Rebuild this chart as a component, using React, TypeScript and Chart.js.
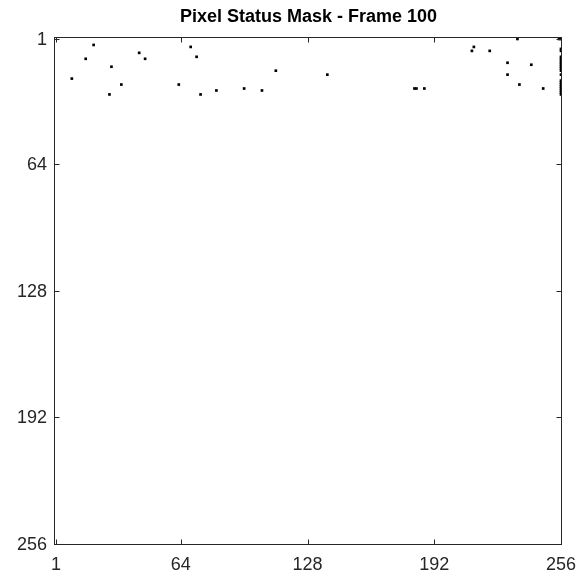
import { useEffect, useRef } from "react";
import { Chart, registerables } from "chart.js";

Chart.register(...registerables);

const TITLE = "Pixel Status Mask - Frame 100";
const GRID_SIZE = 256;
const X_TICKS = [1, 64, 128, 192, 256];
const Y_TICKS = [1, 64, 128, 192, 256];

// Flagged (status = 1) pixels, as column / row pairs in image coordinates
const FLAGGED_COLS = [
  20, 16, 29, 9, 34, 28, 43, 46, 63, 69, 72, 74, 82, 96, 105, 112, 138,
  182, 183, 187, 212, 211, 220, 229, 241, 229, 235, 247, 234, 255,
  256, 256, 256, 256, 256, 256, 256, 256, 256, 256, 256, 256,
  256, 256, 256, 256, 256, 256, 256, 256,
];
const FLAGGED_ROWS = [
  4, 11, 15, 21, 24, 29, 8, 11, 24, 5, 10, 29, 27, 26, 27, 17, 19,
  26, 26, 26, 5, 7, 7, 13, 14, 19, 24, 26, 1, 1,
  1, 6, 7, 10, 11, 12, 13, 14, 15, 16, 17, 19,
  22, 23, 24, 25, 26, 27, 28, 29,
];

const AXIS_COLOR = "#262626";
const FONT_FAMILY = '"Liberation Sans", Arial, Helvetica, sans-serif';

const axesPlugin = {
  id: "boxedAxes",
  afterDraw(chart: any) {
    const { ctx, chartArea, scales } = chart;
    const { left, right, top, bottom } = chartArea;
    const xs = scales.x;
    const ys = scales.y;
    const tickLen = 5;
    ctx.save();
    ctx.strokeStyle = AXIS_COLOR;
    ctx.lineWidth = 1;
    const L = Math.round(left) - 0.5;
    const R = Math.round(right) - 0.5;
    const T = Math.round(top) - 0.5;
    const B = Math.round(bottom) - 0.5;
    ctx.strokeRect(L, T, R - L, B - T);

    ctx.beginPath();
    X_TICKS.forEach((v) => {
      const px = Math.round(xs.getPixelForValue(v)) + 0.5;
      ctx.moveTo(px, B);
      ctx.lineTo(px, B - tickLen);
      ctx.moveTo(px, T);
      ctx.lineTo(px, T + tickLen);
    });
    Y_TICKS.forEach((v) => {
      const py = Math.round(ys.getPixelForValue(v)) + 0.5;
      ctx.moveTo(L, py);
      ctx.lineTo(L + tickLen, py);
      ctx.moveTo(R, py);
      ctx.lineTo(R - tickLen, py);
    });
    ctx.stroke();

    ctx.fillStyle = AXIS_COLOR;
    ctx.font = `18px ${FONT_FAMILY}`;
    ctx.textBaseline = "alphabetic";
    ctx.textAlign = "center";
    X_TICKS.forEach((v) => {
      ctx.fillText(String(v), xs.getPixelForValue(v), bottom + 25);
    });
    ctx.textAlign = "right";
    Y_TICKS.forEach((v) => {
      ctx.fillText(String(v), left - 8, ys.getPixelForValue(v) + 6);
    });

    ctx.fillStyle = "#000000";
    ctx.font = `bold 18px ${FONT_FAMILY}`;
    ctx.textAlign = "center";
    ctx.fillText(TITLE, (left + right) / 2, top - 16);
    ctx.restore();
  },
};

export default function App() {
  const canvasRef = useRef<HTMLCanvasElement | null>(null);

  useEffect(() => {
    const canvas = canvasRef.current;
    if (!canvas) return;
    const points = FLAGGED_COLS.map((c, i) => ({ x: c, y: FLAGGED_ROWS[i] }));
    const chart = new Chart(canvas, {
      type: "scatter",
      data: {
        datasets: [
          {
            label: "Flagged",
            data: points,
            pointStyle: "rect",
            backgroundColor: "#000000",
            borderWidth: 0,
            // one image cell, slightly enlarged so the squares render solid
            pointRadius: (ctx: any) => {
              const s = ctx.chart.scales.x;
              const cell = Math.abs(s.getPixelForValue(1) - s.getPixelForValue(0));
              return (cell + 0.7) / Math.SQRT2;
            },
          },
        ],
      },
      options: {
        responsive: false,
        animation: false,
        devicePixelRatio: 1,
        layout: { padding: { left: 55, right: 14, top: 38, bottom: 31 } },
        plugins: {
          legend: { display: false },
          tooltip: { enabled: false },
          title: { display: false },
        },
        events: [],
        scales: {
          x: {
            type: "linear",
            display: false,
            min: 0.5,
            max: GRID_SIZE + 0.5,
          },
          y: {
            type: "linear",
            display: false,
            reverse: true,
            min: 0.5,
            max: GRID_SIZE + 0.5,
          },
        },
      },
      plugins: [axesPlugin],
    });
    return () => chart.destroy();
  }, []);

  return (
    <div style={{ position: "absolute", left: 0, top: 0, width: 576, height: 576, background: "#ffffff" }}>
      <canvas ref={canvasRef} width={576} height={576} />
    </div>
  );
}
